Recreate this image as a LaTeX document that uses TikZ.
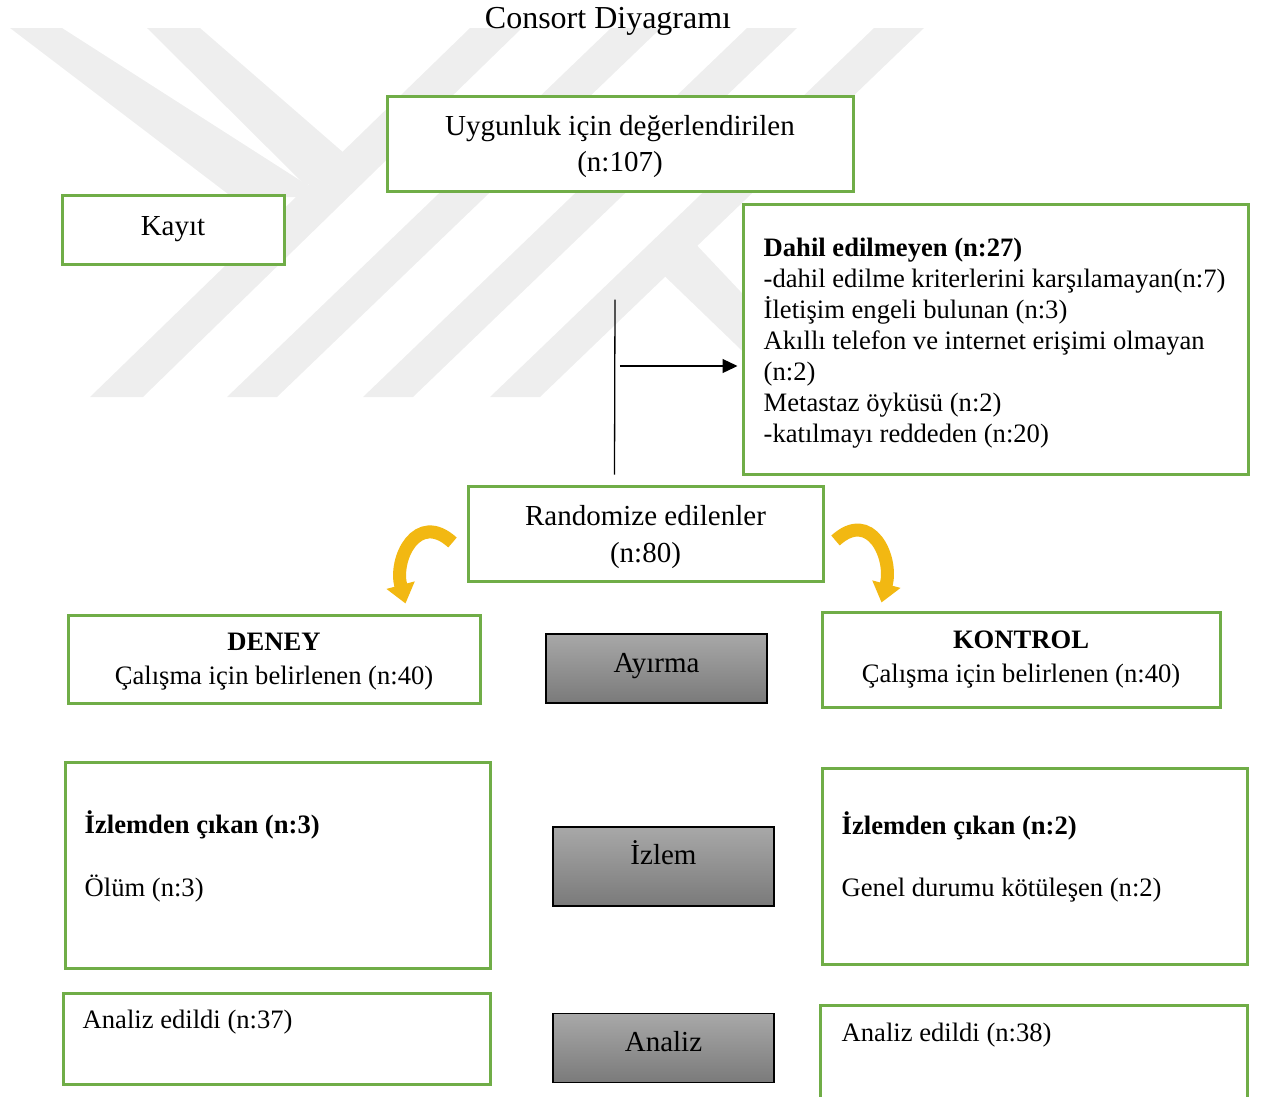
\documentclass[tikz,border=0pt]{standalone}
\usepackage{fontspec}
\setmainfont{Liberation Serif}
\usepackage{tikz}
\usetikzlibrary{arrows.meta,calc,positioning,shapes}

\definecolor{boxgreen}{RGB}{112,173,71}
\definecolor{wmgray}{RGB}{238,238,238}
\definecolor{arrowgold}{RGB}{242,184,18}
\definecolor{graytop}{RGB}{168,168,168}
\definecolor{graybot}{RGB}{122,122,122}

\begin{document}
\begin{tikzpicture}[%
    x=1pt, y=-1pt,
    >={Triangle[length=15pt,width=14pt]},
    greenbox/.style={draw=boxgreen, line width=3pt, fill=white, inner sep=0pt,
      align=center, text depth=0pt, font=\fontsize{26.6}{31}\selectfont},
    graybox/.style={draw=black, line width=1.3pt, top color=graytop,
      bottom color=graybot, minimum width=221pt, inner sep=0pt,
      font=\fontsize{29}{35}\selectfont},
    txt/.style={inner sep=0pt, align=left, font=\fontsize{26.6}{31}\selectfont},
    goldarrow/.style={draw=arrowgold, line width=13pt,
      -{Triangle[length=19pt,width=28pt]}}
  ]
  \useasboundingbox (0,0) rectangle (1262,1096);

  % watermark
  \fill[wmgray] (10,28) -- (62,28) -- (312,188) -- (300,197) -- (232,197) -- cycle;
  \fill[wmgray] (147,28) -- (200,28) -- (352,160) -- (306,186) -- cycle;
  \fill[wmgray] (90,397) -- (143,397) -- (522,28) -- (470,28) -- cycle;
  \fill[wmgray] (227,397) -- (277,397) -- (661,28) -- (611,28) -- cycle;
  \fill[wmgray] (363,397) -- (413,397) -- (797,28) -- (747,28) -- cycle;
  \fill[wmgray] (490,397) -- (540,397) -- (924,28) -- (874,28) -- cycle;
  \fill[wmgray] (650,262) -- (690,238) -- (840,397) -- (790,397) -- cycle;

  \node[inner sep=0pt, font=\fontsize{32}{38}\selectfont] (title) at (608,21) {Consort Diyagramı};

  \node[greenbox, font=\fontsize{29}{36}\selectfont, minimum width=466pt, minimum height=95pt]
    (uyg) at (620,143.5) {Uygunluk için değerlendirilen\\(n:107)};
  \node[greenbox, font=\fontsize{29}{35}\selectfont, minimum width=222pt, minimum height=69pt,
    text depth=7pt] (kayit) at (173,229.5) {Kayıt};
  \node[greenbox, minimum width=505pt, minimum height=270pt] (dahil) at (995.5,339) {};
  \node[txt, anchor=base west] (dahiltxt) at ($(dahil.north west)+(22,240)$)
    {\textbf{Dahil edilmeyen (n:27)}\\-dahil edilme kriterlerini karşılamayan(n:7)\\İletişim engeli bulunan (n:3)\\Akıllı telefon ve internet erişimi olmayan\\(n:2)\\Metastaz öyküsü (n:2)\\-katılmayı reddeden (n:20)};
  \node[greenbox, font=\fontsize{29}{37}\selectfont, minimum width=355pt, minimum height=95pt]
    (rand) at (645.5,533.5) {Randomize edilenler\\(n:80)};

  \node[greenbox, font=\fontsize{26.6}{34}\selectfont, minimum width=412pt, minimum height=88pt]
    (deney) at (274,659) {\textbf{DENEY}\\Çalışma için belirlenen (n:40)};
  \node[graybox, minimum height=69pt, text depth=12pt] (ayirma) at (656.5,668.5) {Ayırma};
  \node[greenbox, font=\fontsize{26.6}{34}\selectfont, minimum width=398pt, minimum height=95pt,
    text depth=5pt] (kontrol) at (1021,659.5) {\textbf{KONTROL}\\Çalışma için belirlenen (n:40)};

  \node[greenbox, minimum width=425pt, minimum height=206pt] (izlemL) at (277.5,865) {};
  \node[txt, anchor=base west] (izlemLtxt) at ($(izlemL.north west)+(21,136)$)
    {\textbf{İzlemden çıkan (n:3)}\\[32pt]Ölüm (n:3)};
  \node[graybox, minimum height=79pt, text depth=27pt] (izlem) at (663.5,866.5) {İzlem};
  \node[greenbox, minimum width=425pt, minimum height=196pt] (izlemR) at (1034.5,866) {};
  \node[txt, anchor=base west] (izlemRtxt) at ($(izlemR.north west)+(21,130)$)
    {\textbf{İzlemden çıkan (n:2)}\\[31pt]Genel durumu kötüleşen (n:2)};

  \node[greenbox, minimum width=427pt, minimum height=91pt] (analizL) at (276.5,1038.5) {};
  \node[txt, anchor=base west] (analizLtxt) at ($(analizL.north west)+(21,37)$) {Analiz edildi (n:37)};
  \node[graybox, minimum height=69pt, text depth=14pt] (analiz) at (663.5,1048.3) {Analiz};
  \node[greenbox, minimum width=427pt, minimum height=110pt] (analizR) at (1033.5,1060) {};
  \node[txt, anchor=base west] (analizRtxt) at ($(analizR.north west)+(23,38)$) {Analiz edildi (n:38)};

  \coordinate (vtop) at ($(uyg.south)+(-5,107)$);
  \coordinate (vbot) at ($(rand.north)+(-31,-10)$);
  \coordinate (split) at ($(vtop)!0.38!(vbot)$);
  \draw[line width=1.3pt] (vtop) -- (vbot);
  \draw[->, line width=1.3pt, shorten >=4pt] ($(split)+(5,0)$) -- (split -| dahil.west);

  \draw[goldarrow] ($(rand.west)+(-14,9)$) .. controls +(-35,-32) and +(-12,-45) .. ($(deney.north east)+(-76,-10)$);
  \draw[goldarrow] ($(rand.east)+(11,7)$) .. controls +(35,-32) and +(12,-45) .. ($(kontrol.north west)+(61,-8)$);
\end{tikzpicture}
\end{document}
